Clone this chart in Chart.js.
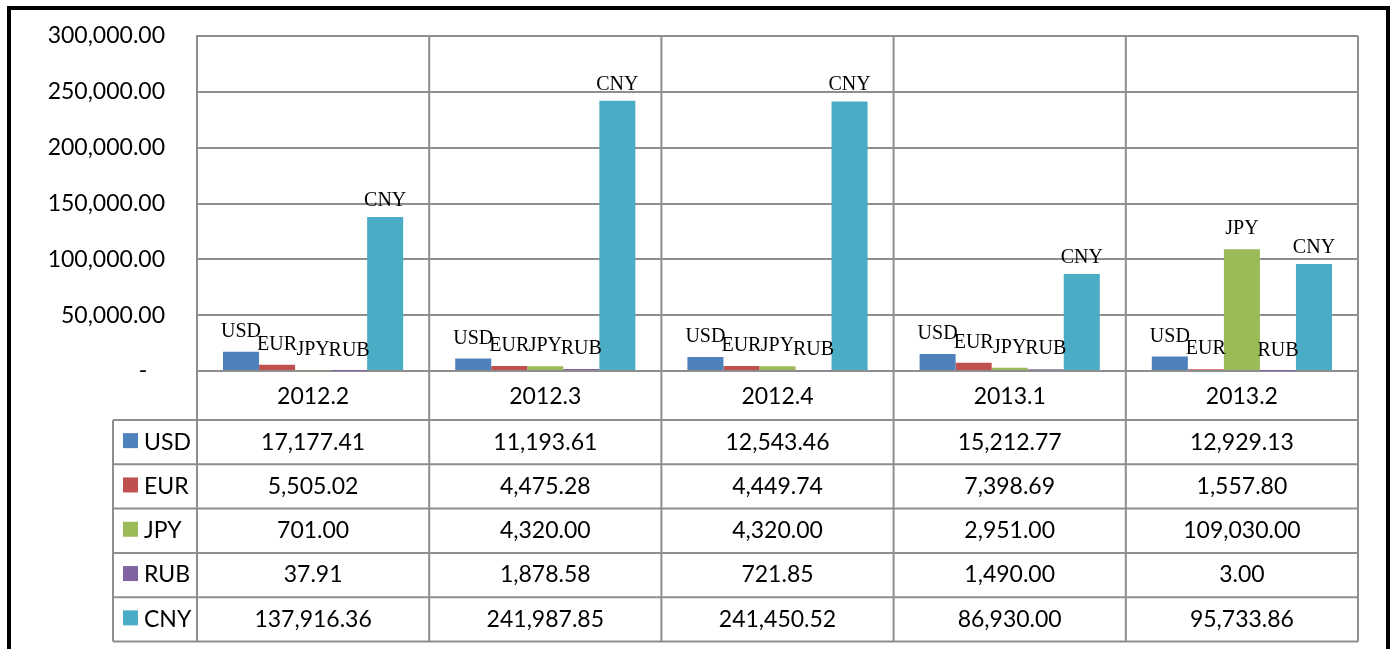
<!DOCTYPE html>
<html>
<head>
<meta charset="utf-8">
<title>Currency chart</title>
<script src="https://cdn.jsdelivr.net/npm/chart.js@4.4.0/dist/chart.umd.min.js"></script>
<style>
  html, body { margin: 0; padding: 0; background: #fff; }
  #wrap { position: relative; width: 1393px; height: 649px; overflow: hidden; }
  #chart { position: absolute; left: 0; top: 0; }
  .frame {
    position: absolute; left: 7px; top: 6px; width: 1375px; height: 700px;
    border: 4px solid #000; border-bottom: none; pointer-events: none;
  }
</style>
</head>
<body>
<div id="wrap">
  <canvas id="chart" width="1393" height="649"></canvas>
  <div class="frame"></div>
</div>
<script>
// quarters and currencies
const quarters = ['2012.2', '2012.3', '2012.4', '2013.1', '2013.2'];
const currencies = ['USD', 'EUR', 'JPY', 'RUB', 'CNY'];

// values per currency, one per quarter
const usd = [17177.41, 11193.61, 12543.46, 15212.77, 12929.13];
const eur = [5505.02, 4475.28, 4449.74, 7398.69, 1557.80];
const jpy = [701.00, 4320.00, 4320.00, 2951.00, 109030.00];
const rub = [37.91, 1878.58, 721.85, 1490.00, 3.00];
const cny = [137916.36, 241987.85, 241450.52, 86930.00, 95733.86];

// y axis ticks
const yTicks = [0, 50000, 100000, 150000, 200000, 250000, 300000];

const seriesValues = [usd, eur, jpy, rub, cny];
const colors = ['#4F81BD', '#C0504D', '#9BBB59', '#8064A2', '#4BACC6'];
const gridColor = '#8e8e8e';
const sansFont = 'Lato';
const serifFont = '"Liberation Serif", "Times New Roman", serif';

const fmt = v => v.toLocaleString('en-US', { minimumFractionDigits: 2, maximumFractionDigits: 2 });

Chart.defaults.font.family = sansFont;
Chart.defaults.color = '#000';

// series name written above each bar
const barLabels = {
  id: 'barLabels',
  afterDatasetsDraw(chart) {
    const ctx = chart.ctx;
    ctx.save();
    ctx.font = '20px ' + serifFont;
    ctx.fillStyle = '#000';
    ctx.textAlign = 'center';
    ctx.textBaseline = 'alphabetic';
    chart.data.datasets.forEach((ds, di) => {
      const gap = ds.label === 'CNY' ? 11 : 15;
      chart.getDatasetMeta(di).data.forEach(bar => {
        ctx.fillText(ds.label, bar.x, bar.y - gap);
      });
    });
    ctx.restore();
  }
};

// data table under the plot
const dataTable = {
  id: 'dataTable',
  afterDraw(chart) {
    const { ctx, chartArea: { top, bottom, right }, scales: { x } } = chart;
    const step = x.getPixelForValue(1) - x.getPixelForValue(0);
    const edges = quarters.map((q, i) => x.getPixelForValue(i) - step / 2);
    edges.push(right);
    const tableLeft = 113;
    const rowTop = bottom + 49;
    const rowH = 44.3;
    const tableBottom = rowTop + rowH * currencies.length;

    ctx.save();
    ctx.strokeStyle = gridColor;
    ctx.lineWidth = 2;
    ctx.beginPath();
    edges.forEach(e => { ctx.moveTo(e, top); ctx.lineTo(e, tableBottom); });
    ctx.moveTo(tableLeft, rowTop); ctx.lineTo(tableLeft, tableBottom);
    for (let r = 0; r <= currencies.length; r++) {
      const y = rowTop + r * rowH;
      ctx.moveTo(tableLeft, y); ctx.lineTo(right, y);
    }
    ctx.stroke();

    ctx.font = '23px ' + sansFont;
    ctx.textBaseline = 'middle';
    chart.data.datasets.forEach((ds, r) => {
      const cy = rowTop + r * rowH + rowH / 2;
      ctx.fillStyle = ds.backgroundColor;
      ctx.fillRect(123, cy - 9, 15, 15);
      ctx.fillStyle = '#000';
      ctx.textAlign = 'left';
      ctx.fillText(ds.label, 144, cy);
      ctx.textAlign = 'center';
      ds.data.forEach((v, i) => ctx.fillText(fmt(v), x.getPixelForValue(i), cy));
    });
    ctx.restore();
  }
};

new Chart(document.getElementById('chart'), {
  type: 'bar',
  data: {
    labels: quarters,
    datasets: currencies.map((c, i) => ({
      label: c,
      data: seriesValues[i],
      backgroundColor: colors[i],
      borderWidth: 0,
      categoryPercentage: 0.776,
      barPercentage: 1
    }))
  },
  options: {
    responsive: false,
    animation: false,
    layout: { padding: { top: 36, right: 35, left: 0, bottom: 0 } },
    plugins: {
      legend: { display: false },
      tooltip: { enabled: false }
    },
    scales: {
      x: {
        grid: { display: false, drawTicks: false },
        border: { display: false },
        ticks: { font: { size: 23 }, color: '#000', padding: 12 },
        afterFit(s) { s.height = 278; }
      },
      y: {
        min: yTicks[0],
        max: yTicks[yTicks.length - 1],
        afterBuildTicks(s) { s.ticks = yTicks.map(v => ({ value: v })); },
        grid: { color: gridColor, lineWidth: 2, drawTicks: false },
        border: { display: true, color: gridColor, width: 2 },
        ticks: {
          font: { size: 23 },
          color: '#000',
          padding: 32,
          callback: v => v === 0 ? '-   ' : fmt(v)
        },
        afterFit(s) {
          s.width = 197;
          s.paddingTop = 0;
          s.paddingBottom = 0;
        }
      }
    }
  },
  plugins: [barLabels, dataTable]
});
</script>
</body>
</html>
